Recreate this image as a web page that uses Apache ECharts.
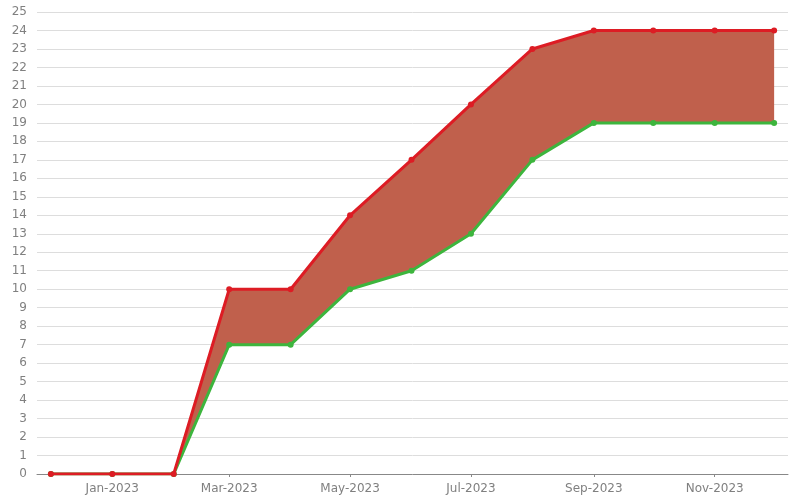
<!DOCTYPE html>
<html>
<head>
<meta charset="utf-8">
<script src="https://cdn.jsdelivr.net/npm/echarts@6/dist/echarts.min.js"></script>
<style>
  html, body { margin: 0; padding: 0; background: #fff; }
  #chart { width: 800px; height: 500px; }
</style>
</head>
<body>
<div id="chart"></div>
<script>
// month starts, Dec-2022 .. Dec-2023
var months = ['2022-12-01', '2023-01-01', '2023-02-01', '2023-03-01', '2023-04-01', '2023-05-01',
  '2023-06-01', '2023-07-01', '2023-08-01', '2023-09-01', '2023-10-01', '2023-11-01', '2023-12-01'];
var upper = [0, 0, 0, 10, 10, 14, 17, 20, 23, 24, 24, 24, 24];
var lower = [0, 0, 0, 7, 7, 10, 11, 13, 17, 19, 19, 19, 19];
var labelMonths = ['2023-01-01', '2023-03-01', '2023-05-01', '2023-07-01', '2023-09-01', '2023-11-01'];
var monthNames = ['Jan', 'Feb', 'Mar', 'Apr', 'May', 'Jun', 'Jul', 'Aug', 'Sep', 'Oct', 'Nov', 'Dec'];

function ts(s) { return Date.UTC(+s.slice(0, 4), +s.slice(5, 7) - 1, +s.slice(8, 10)); }

var myChart = echarts.init(document.getElementById('chart'));
var font = 'DejaVu Sans';

var upperData = months.map(function (m, i) { return [ts(m), upper[i]]; });
var lowerData = months.map(function (m, i) { return [ts(m), lower[i]]; });

var option = {
    animation: false,
    grid: { left: 37, right: 12, top: 12, bottom: 26, containLabel: false },
    xAxis: {
        type: 'value',
        min: ts('2022-11-24'),
        max: ts('2023-12-08'),
        offset: 4,
        axisLine: { show: true, lineStyle: { color: '#888', width: 1 } },
        axisTick: { show: true, customValues: labelMonths.map(ts), length: 3, lineStyle: { color: '#888' } },
        splitLine: { show: false },
        axisLabel: {
            customValues: labelMonths.map(ts),
            color: '#808080', fontFamily: font, fontSize: 12, margin: 5,
            formatter: function (v) {
                var d = new Date(v);
                return monthNames[d.getUTCMonth()] + '-' + d.getUTCFullYear();
            }
        }
    },
    yAxis: {
        type: 'value',
        min: 0, max: 25, interval: 1,
        axisLine: { show: false },
        axisTick: { show: false },
        splitLine: { lineStyle: { color: '#dddddd', width: 1 } },
        axisLabel: { color: '#808080', fontFamily: font, fontSize: 12, margin: 10 }
    },
    series: [
        {
            // filled band between the two lines, one polygon
            name: 'band', type: 'custom', z: 1, silent: true,
            data: [[ts(months[0]), 0]],
            renderItem: function (params, api) {
                var pts = upperData.map(function (p) { return api.coord(p); });
                var low = lowerData.map(function (p) { return api.coord(p); }).reverse();
                return {
                    type: 'polygon',
                    shape: { points: pts.concat(low) },
                    style: { fill: '#c0604c' }
                };
            }
        },
        {
            name: 'lower', type: 'line', z: 2,
            data: lowerData,
            symbol: 'circle', symbolSize: 6,
            itemStyle: { color: '#3db53d' },
            lineStyle: { color: '#3db53d', width: 3 }
        },
        {
            name: 'upper', type: 'line', z: 3,
            data: upperData,
            symbol: 'circle', symbolSize: 6,
            itemStyle: { color: '#dd1c24' },
            lineStyle: { color: '#dd1c24', width: 3 }
        }
    ]
};
myChart.setOption(option);
</script>
</body>
</html>
